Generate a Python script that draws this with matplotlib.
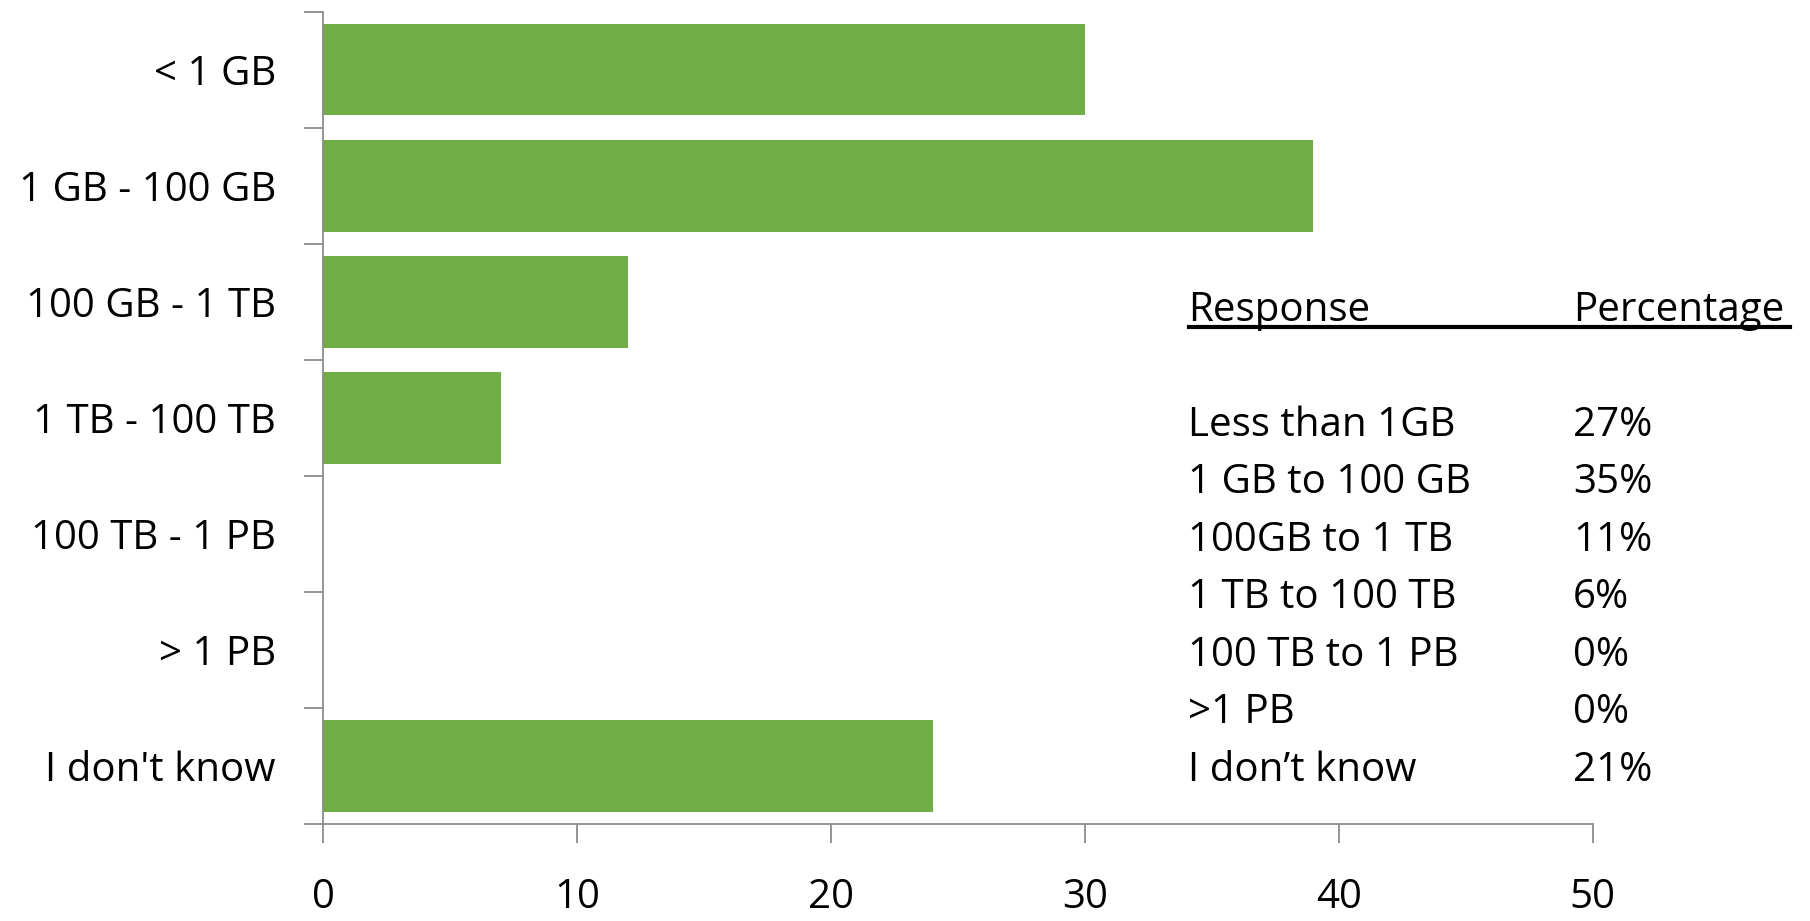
import matplotlib
matplotlib.use("Agg")
import matplotlib.pyplot as plt
from matplotlib.lines import Line2D

plt.rcParams['font.family'] = ['Open Sans', 'DejaVu Sans']

categories = ["< 1 GB", "1 GB - 100 GB", "100 GB - 1 TB", "1 TB - 100 TB",
              "100 TB - 1 PB", "> 1 PB", "I don't know"]
values = [30, 39, 12, 7, 0, 0, 24]
xticks = [0, 10, 20, 30, 40, 50]

table_responses = ["Less than 1GB", "1 GB to 100 GB", "100GB to 1 TB", "1 TB to 100 TB",
                   "100 TB to 1 PB", ">1 PB", "I don\u2019t know"]
table_pcts = ["27%", "35%", "11%", "6%", "0%", "0%", "21%"]

fig = plt.figure(figsize=(18.10, 9.21), dpi=100)
ax = fig.add_axes([0.1785, 0.105, 0.880 - 0.1785, 0.9875 - 0.105])

ypos = list(range(len(categories)))
ax.barh(ypos, values, height=0.79, color="#70AD47")
ax.set_ylim(len(categories) - 0.5, -0.5)
ax.set_xlim(0, 50)

ax.set_yticks(ypos)
ax.set_yticklabels(categories, fontsize=29)
ax.set_yticks([i - 0.5 for i in range(len(categories) + 1)], minor=True)
ax.tick_params(axis='y', which='major', length=0, pad=34)
ax.tick_params(axis='y', which='minor', length=14, width=1.3, color="#8c8c8c", direction='out')

ax.set_xticks(xticks)
ax.set_xticklabels([str(t) for t in xticks], fontsize=29)
ax.tick_params(axis='x', length=14, width=1.3, color="#8c8c8c", direction='out', pad=24)

for s in ['top', 'right']:
    ax.spines[s].set_visible(False)
for s in ['left', 'bottom']:
    ax.spines[s].set_color("#8c8c8c")
    ax.spines[s].set_linewidth(1.3)

# table text
fs = 29
xr = 0.6565
xp = 0.869
fig.text(xr, 0.651, "Response", fontsize=fs, va='baseline', ha='left')
fig.text(xp, 0.651, "Percentage", fontsize=fs, va='baseline', ha='left')
fig.add_artist(Line2D([0.657, 0.989], [0.645, 0.645], transform=fig.transFigure,
                      color='black', linewidth=3))
y0 = 0.527
dy = 0.0625
for i, (r, p) in enumerate(zip(table_responses, table_pcts)):
    fig.text(xr, y0 - i * dy, r, fontsize=fs, va='baseline', ha='left')
    fig.text(xp, y0 - i * dy, p, fontsize=fs, va='baseline', ha='left')

fig.savefig("out.png", dpi=100)
